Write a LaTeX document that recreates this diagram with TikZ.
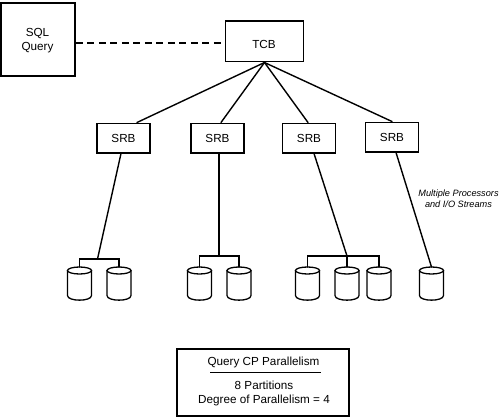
\documentclass[tikz,border=0pt]{standalone}
\usepackage{fontspec}
\setmainfont{Liberation Sans}
\tikzset{
  x=1pt,y=-1pt,
  box/.style={draw=black,line width=1.5pt,rectangle,inner sep=0pt,font=\fontsize{11.7}{14.5}\selectfont,align=center},
  srb/.style={box,minimum width=53pt,minimum height=29.5pt},
  conn/.style={draw=black,line width=1.4pt,line cap=round,line join=miter},
  dbc/.style={rectangle,inner sep=0pt,minimum width=24.5pt,minimum height=33.5pt,anchor=north},
  dbline/.style={draw=black,fill=white,line width=1.3pt},
}
\begin{document}
\begin{tikzpicture}
\useasboundingbox (0,0) rectangle (500,417);
\node[box,minimum width=74pt,minimum height=73pt] (sql) at (38,39.5) {};
\node (sqlt) at (37.5,40.5) [font=\fontsize{11.7}{14.5}\selectfont,align=center] {SQL\\Query};
\node[box,minimum width=78pt,minimum height=40.5pt] (tcb) at (264.5,41.5) {};
\node (tcbt) at (264,44) [font=\fontsize{11.7}{14.5}\selectfont] {TCB};
\node[srb] (s1) at (123.5,138) {SRB};
\node[srb] (s2) at (217.5,138) {SRB};
\node[srb] (s3) at (309,138) {SRB};
\node[srb] (s4) at (392,137) {SRB};
\node[dbc] (c1) at (79.5,267) {};
\node[dbc] (c2) at (119,267) {};
\node[dbc] (c3) at (199.5,267) {};
\node[dbc] (c4) at (239,267) {};
\node[dbc] (c5) at (307.5,267) {};
\node[dbc] (c6) at (347,267) {};
\node[dbc] (c7) at (379,267) {};
\node[dbc] (c8) at (431.5,267) {};
\foreach \c in {c1,c2,c3,c4,c5,c6,c7,c8}{
  \draw[dbline,shift={(\c.north)}] (-12,3.5) -- (-12,28.5) .. controls (-12,34.7) and (12,34.7) .. (12,28.5) -- (12,3.5);
  \draw[dbline,shift={(\c.north)}] (0,3.5) ellipse [x radius=12pt,y radius=3.5pt];
}
\coordinate (b1) at (97.5,259);
\coordinate (b2) at (219,256);
\coordinate (b3) at (347,256);
\draw[conn,line width=1.6pt,line cap=butt,dash pattern=on 7pt off 4.5pt] ([yshift=-3.5pt]sql.east) -- ([yshift=-1.5pt]tcb.west);
\draw[conn] (tcb.south) -- ([xshift=13.5pt]s1.north);
\draw[conn] (tcb.south) -- ([xshift=3.5pt]s2.north);
\draw[conn] (tcb.south) -- ([xshift=-1pt]s3.north);
\draw[conn] (tcb.south) -- (s4.north);
\draw[conn] ([xshift=-2.5pt]s1.south) -- (b1);
\draw[conn] ([xshift=1.5pt]s2.south) -- (b2);
\draw[conn] ([xshift=5pt]s3.south) -- (b3);
\draw[conn] ([xshift=4pt]s4.south) -- (c8.north);
\draw[conn] (c1.north) |- (b1) -| (c2.north);
\draw[conn] (c3.north) |- (b2) -| (c4.north);
\draw[conn] (c5.north) |- (b3) -| (c7.north);
\draw[conn] (b3) -- (c6.north);
\node[font=\fontsize{9.2}{11.5}\selectfont\itshape,align=center] (note) at (458.5,198.5) {Multiple Processors\\and I/O Streams};
\node[box,minimum width=172pt,minimum height=67pt] (leg) at (263,382.5) {};
\node[font=\fontsize{11.7}{15}\selectfont] (legt) at (263.5,362) {Query CP Parallelism};
\coordinate (r1) at (210,372.5);
\coordinate (r2) at (321,372.5);
\draw[conn,line width=1.6pt,line cap=butt] (r1) -- (r2);
\node[font=\fontsize{11.7}{14.5}\selectfont,align=center] (legb) at (264,393.5) {8 Partitions\\Degree of Parallelism = 4};
\end{tikzpicture}
\end{document}
